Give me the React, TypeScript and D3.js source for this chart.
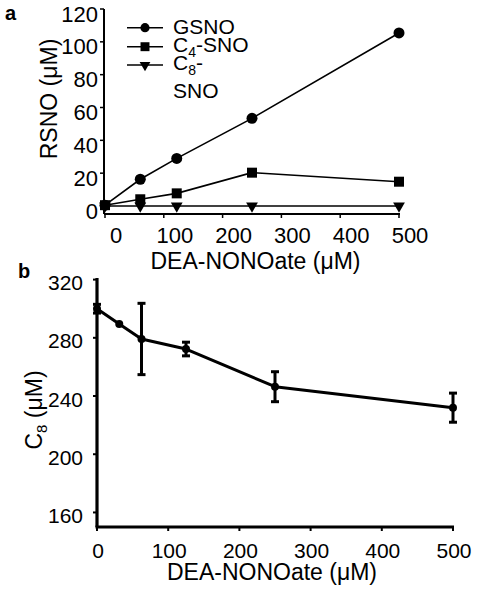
import React from "react";
import * as d3 from "d3";

// Panel a data
const doseA = [0, 60, 122, 250, 500];
const gsno = [0.5, 16.3, 29, 53.4, 105.4];
const c4sno = [0.5, 4.1, 7.7, 20.3, 14.8];
const c8sno = [0, 0, 0, 0, 0];
const ticksAX = [0, 100, 200, 300, 400, 500];
const ticksAY = [0, 20, 40, 60, 80, 100, 120];

// Panel b data
const doseB = [0, 31.25, 62.5, 125, 250, 500];
const c8Mean = [300, 289.5, 279.2, 272.3, 246.4, 232];
const c8Err = [3, 0, 24.5, 4.7, 10.3, 10];
const ticksBX = [0, 100, 200, 300, 400, 500];
const ticksBY = [160, 200, 240, 280, 320];

const FONT = "'Liberation Sans', Arial, Helvetica, sans-serif";

export default function App() {
  const xA = d3.scaleLinear().domain([0, 500]).range([105, 399]);
  const yA = d3.scaleLinear().domain([0, 120]).range([206, 9]);
  const xB = d3.scaleLinear().domain([0, 500]).range([97, 453]);
  const yB = d3.scaleLinear().domain([150, 320]).range([527, 279.6]);
  const axA = 214;

  const lineA = d3
    .line<[number, number]>()
    .x((d) => xA(d[0]))
    .y((d) => yA(d[1]));
  const lineB = d3
    .line<[number, number]>()
    .x((d) => xB(d[0]))
    .y((d) => yB(d[1]));

  const circ = d3.symbol().type(d3.symbolCircle).size(95)()!;
  const sq = d3.symbol().type(d3.symbolSquare).size(100)()!;
  const tri = d3.symbol().type(d3.symbolTriangle).size(60)()!;
  const circL = d3.symbol().type(d3.symbolCircle).size(66)()!;
  const sqL = d3.symbol().type(d3.symbolSquare).size(80)()!;
  const triL = d3.symbol().type(d3.symbolTriangle).size(50)()!;

  const seriesA = [
    { vals: gsno, path: circ, rot: 0 },
    { vals: c4sno, path: sq, rot: 0 },
    { vals: c8sno, path: tri, rot: 180 },
  ];

  const legend = [
    { path: circL, rot: 0, y: 27.7 },
    { path: sqL, rot: 0, y: 46.7 },
    { path: triL, rot: 180, y: 65 },
  ];

  return (
    <svg
      width={479}
      height={600}
      style={{ position: "absolute", left: 0, top: 0, background: "#fff" }}
      fontFamily={FONT}
    >
      {/* Panel labels */}
      <text x={5} y={20} fontSize={20} fontWeight="bold">a</text>
      <text x={18} y={278} fontSize={20} fontWeight="bold">b</text>

      {/* ---------- Panel a ---------- */}
      <g>
        <line x1={104} x2={104} y1={yA(120)} y2={axA} stroke="#000" strokeWidth={2} />
        <line x1={104} x2={xA(500) + 1} y1={axA} y2={axA} stroke="#000" strokeWidth={2} />
        {ticksAY.map((t) => (
          <g key={"ay" + t}>
            <line x1={100} x2={104} y1={yA(t)} y2={yA(t)} stroke="#000" strokeWidth={1.5} />
            <text x={98} y={yA(t) + 12.5} fontSize={22} textAnchor="end">{t}</text>
          </g>
        ))}
        {ticksAX.map((t) => (
          <g key={"ax" + t}>
            <line x1={xA(t)} x2={xA(t)} y1={axA} y2={axA + 4} stroke="#000" strokeWidth={1.5} />
            <text x={xA(t) + 11} y={243} fontSize={22} textAnchor="middle">{t}</text>
          </g>
        ))}
        <text x={255.5} y={269} fontSize={23} textAnchor="middle">DEA-NONOate (μM)</text>
        <text transform={`translate(57,99) rotate(-90)`} fontSize={23} textAnchor="middle">
          RSNO (μM)
        </text>

        {seriesA.map((s, i) => (
          <g key={"s" + i}>
            <path
              d={lineA(doseA.map((x, j) => [x, s.vals[j]] as [number, number]))!}
              fill="none"
              stroke="#000"
              strokeWidth={1.6}
            />
            {doseA.map((x, j) => (
              <path
                key={j}
                d={s.path}
                transform={`translate(${xA(x)},${yA(s.vals[j])}) rotate(${s.rot})`}
                fill="#000"
              />
            ))}
          </g>
        ))}

        {legend.map((l, i) => (
          <g key={"l" + i}>
            <line x1={127} x2={163} y1={l.y} y2={l.y} stroke="#000" strokeWidth={1.6} />
            <path d={l.path} transform={`translate(145,${l.y}) rotate(${l.rot})`} fill="#000" />
          </g>
        ))}
        <text x={173} y={34.3} fontSize={21}>GSNO</text>
        <text x={173} y={51.7} fontSize={21}>
          C<tspan fontSize={14} dy={5}>4</tspan>
          <tspan dy={-5}>-SNO</tspan>
        </text>
        <text x={173} y={70} fontSize={21}>
          C<tspan fontSize={14} dy={5}>8</tspan>
          <tspan dy={-5}>-</tspan>
        </text>
        <text x={173} y={98.3} fontSize={21}>SNO</text>
      </g>

      {/* ---------- Panel b ---------- */}
      <g>
        <line x1={97} x2={97} y1={278} y2={527} stroke="#000" strokeWidth={3.2} />
        <line x1={95.5} x2={xB(500) + 1} y1={527} y2={527} stroke="#000" strokeWidth={3.2} />
        {ticksBY.map((t) => (
          <g key={"by" + t}>
            <line x1={93} x2={97} y1={yB(t)} y2={yB(t)} stroke="#000" strokeWidth={2} />
            <text x={83} y={yB(t) + 10.5} fontSize={21} textAnchor="end">{t}</text>
          </g>
        ))}
        {ticksBX.map((t) => (
          <g key={"bx" + t}>
            <line x1={xB(t)} x2={xB(t)} y1={527} y2={531} stroke="#000" strokeWidth={2} />
            <text x={xB(t) + 1} y={557.5} fontSize={21} textAnchor="middle">{t}</text>
          </g>
        ))}
        <text x={272} y={580} fontSize={23} textAnchor="middle">DEA-NONOate (μM)</text>
        <text transform={`translate(42,410) rotate(-90)`} fontSize={23} textAnchor="middle">
          C<tspan fontSize={15} dy={5}>8</tspan>
          <tspan dy={-5}> (μM)</tspan>
        </text>

        <path
          d={lineB(doseB.map((x, j) => [x, c8Mean[j]] as [number, number]))!}
          fill="none"
          stroke="#000"
          strokeWidth={3}
          strokeLinejoin="round"
        />
        {doseB.map((x, j) => {
          const cx = xB(x);
          const e = c8Err[j];
          return (
            <g key={"b" + j}>
              {e > 0 && (
                <g stroke="#000" strokeWidth={3}>
                  <line x1={cx} x2={cx} y1={yB(c8Mean[j] + e)} y2={yB(c8Mean[j] - e)} />
                  <line x1={cx - 4} x2={cx + 4} y1={yB(c8Mean[j] + e)} y2={yB(c8Mean[j] + e)} />
                  <line x1={cx - 4} x2={cx + 4} y1={yB(c8Mean[j] - e)} y2={yB(c8Mean[j] - e)} />
                </g>
              )}
              <circle cx={cx} cy={yB(c8Mean[j])} r={4} fill="#000" />
            </g>
          );
        })}
      </g>
    </svg>
  );
}
